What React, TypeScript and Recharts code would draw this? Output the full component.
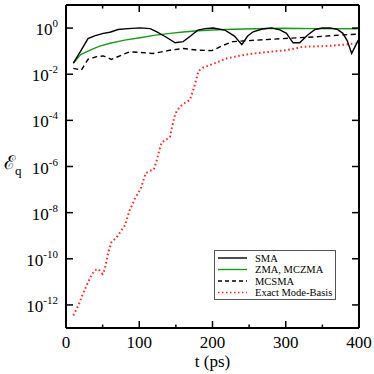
import React from "react";
import { LineChart, Line, XAxis, YAxis, Legend } from "recharts";

// time axis (ps) and error values
const smaT = [10, 20, 30, 40, 51, 60, 71, 85, 101, 115, 124, 137, 149, 160, 170, 180, 190, 201, 217, 230, 240, 248, 255.5, 268, 280.6, 292, 301, 310, 319, 330, 340, 350, 360, 370, 378, 384, 390, 399];
const smaV = [0.03, 0.1, 0.35, 0.47, 0.59, 0.66, 0.87, 0.95, 1.02, 0.95, 0.69, 0.4, 0.23, 0.26, 0.45, 0.81, 0.95, 1.0, 0.81, 0.45, 0.19, 0.45, 0.69, 0.91, 1.02, 0.83, 0.59, 0.23, 0.23, 0.5, 0.87, 1.0, 1.02, 0.89, 0.59, 0.28, 0.08, 0.3];

const zmaT = [10, 20, 33, 45, 60, 80, 101, 120, 142, 160, 180, 200, 228, 260, 296, 340, 398];
const zmaV = [0.03, 0.071, 0.11, 0.16, 0.22, 0.3, 0.38, 0.48, 0.59, 0.68, 0.76, 0.83, 0.89, 0.93, 0.98, 0.95, 0.93];

const mcsmaT = [10, 21, 30, 42, 51, 62, 78, 87, 100, 119, 142, 160, 180, 199, 215, 228, 260, 296, 342, 374, 396];
const mcsmaV = [0.018, 0.015, 0.044, 0.058, 0.062, 0.044, 0.072, 0.093, 0.089, 0.079, 0.11, 0.13, 0.11, 0.105, 0.18, 0.26, 0.3, 0.35, 0.42, 0.5, 0.54];

const exactT = [10, 16.8, 22, 28, 35, 39.6, 44, 50, 53, 57.7, 62, 69, 80.5, 87, 94, 102, 106.4, 109, 114.6, 120, 124.6, 128, 130.5, 136, 142, 145, 148.7, 151.8, 157, 162.7, 169, 174.6, 178, 181, 188, 197, 210, 220, 240, 256, 280, 301, 324, 356, 383, 395];
const exactV = [3.5e-13, 9.3e-13, 2.5e-12, 6.9e-12, 2.0e-11, 3.2e-11, 3.6e-11, 2.2e-11, 3.6e-11, 1.9e-10, 5.2e-10, 8.5e-10, 2.8e-9, 1.3e-8, 4.0e-8, 1.1e-7, 3.0e-7, 5.2e-7, 6.5e-7, 7.4e-7, 2.2e-6, 6.0e-6, 1.1e-5, 1.4e-5, 1.9e-5, 5.6e-5, 1.7e-4, 2.8e-4, 4.2e-4, 5.8e-4, 7.6e-4, 2.5e-3, 6.3e-3, 1.4e-2, 2.0e-2, 2.5e-2, 3.7e-2, 4.9e-2, 6.6e-2, 7.9e-2, 9.5e-2, 0.11, 0.155, 0.166, 0.195, 0.22];

const xTicks = [0, 50, 100, 150, 200, 250, 300, 350, 400];
const yTicks = [1, 1e-2, 1e-4, 1e-6, 1e-8, 1e-10, 1e-12];

const seriesNames = ["SMA", "ZMA, MCZMA", "MCSMA", "Exact Mode-Basis"];

const SERIF = "Liberation Serif";
const txt = { fontFamily: SERIF };
const GREEN = "#179c17";
const RED = "#ff2a2a";

const toRows = (t: number[], v: number[]) => t.map((x, i) => ({ t: x, v: v[i] }));

const smaData = toRows(smaT, smaV);
const zmaData = toRows(zmaT, zmaV);
const mcsmaData = toRows(mcsmaT, mcsmaV);
const exactData = toRows(exactT, exactV);

const legendStyles = [
  { color: "#000", dash: undefined },
  { color: GREEN, dash: undefined },
  { color: "#000", dash: "4 3" },
  { color: RED, dash: "1.5 2.5" },
];

function BottomTick({ x, y, payload }: any) {
  const major = payload.value % 100 === 0;
  return (
    <g>
      <line x1={x} y1={y} x2={x} y2={y - (major ? 7 : 3.5)} stroke="#000" strokeWidth={1.5} />
      {major && (
        <text x={x} y={y + 20} textAnchor="middle" fontSize={17} style={txt} fill="#000">
          {payload.value}
        </text>
      )}
    </g>
  );
}

function TopTick({ x, y, payload }: any) {
  const major = payload.value % 100 === 0;
  return <line x1={x} y1={y} x2={x} y2={y + (major ? 7 : 3.5)} stroke="#000" strokeWidth={1.5} />;
}

function LeftTick({ x, y, payload }: any) {
  const exp = Math.round(Math.log10(payload.value));
  return (
    <g>
      <line x1={x} y1={y} x2={x + 7} y2={y} stroke="#000" strokeWidth={1.5} />
      <text x={x - 8} y={y + 7} textAnchor="end" style={txt} fill="#000">
        <tspan fontSize={17}>10</tspan>
        <tspan fontSize={11} dy={-8}>{exp}</tspan>
      </text>
    </g>
  );
}

function RightTick({ x, y }: any) {
  return <line x1={x} y1={y} x2={x - 7} y2={y} stroke="#000" strokeWidth={1.5} />;
}

function LegendBox() {
  return (
    <svg width={122} height={50} style={{ display: "block" }}>
      <rect x={0.5} y={0.5} width={121} height={49} fill="#fff" stroke="#555" strokeWidth={1} />
      {seriesNames.map((name, i) => {
        const cy = 8 + i * 11.5;
        return (
          <g key={name}>
            <line x1={4} x2={33} y1={cy} y2={cy} stroke={legendStyles[i].color} strokeWidth={1.4} strokeDasharray={legendStyles[i].dash} />
            <text x={41} y={cy + 3.5} fontSize={10.5} style={txt} fill="#000">
              {name}
            </text>
          </g>
        );
      })}
    </svg>
  );
}

export default function App() {
  return (
    <div style={{ position: "absolute", left: 0, top: 0, background: "#fff" }}>
      <LineChart width={374} height={374} margin={{ top: 0, right: 0, bottom: 0, left: 0 }}>
        <XAxis
          xAxisId="top"
          orientation="top"
          type="number"
          dataKey="t"
          domain={[0, 400]}
          ticks={xTicks}
          height={5}
          tickSize={0}
          tickMargin={0}
          tickLine={false}
          axisLine={{ stroke: "#000", strokeWidth: 2 }}
          tick={<TopTick />}
          allowDataOverflow
        />
        <XAxis
          type="number"
          dataKey="t"
          domain={[0, 400]}
          ticks={xTicks}
          height={46}
          tickSize={0}
          tickMargin={0}
          tickLine={false}
          axisLine={{ stroke: "#000", strokeWidth: 2 }}
          tick={<BottomTick />}
          interval={0}
          allowDataOverflow
          label={({ viewBox }: any) => (
            <text x={viewBox.x + viewBox.width / 2} y={viewBox.y + 39} textAnchor="middle" fontSize={17} style={txt} fill="#000">
              t (ps)
            </text>
          )}
        />
        <YAxis
          type="number"
          scale="log"
          domain={[1e-13, 10]}
          ticks={yTicks}
          width={66}
          tickSize={0}
          tickMargin={0}
          tickLine={false}
          axisLine={{ stroke: "#000", strokeWidth: 2 }}
          tick={<LeftTick />}
          interval={0}
          allowDataOverflow
          label={({ viewBox }: any) => (
            <text x={viewBox.x + 4} y={viewBox.y + viewBox.height / 2 + 2} style={txt} fill="#000">
              <tspan fontSize={19}>ℰ</tspan>
              <tspan fontSize={13} dy={6}>q</tspan>
            </text>
          )}
        />
        <YAxis
          yAxisId="right"
          orientation="right"
          type="number"
          scale="log"
          domain={[1e-13, 10]}
          ticks={yTicks}
          width={15}
          tickSize={0}
          tickMargin={0}
          tickLine={false}
          axisLine={{ stroke: "#000", strokeWidth: 2 }}
          tick={<RightTick />}
          interval={0}
          allowDataOverflow
        />
        <Line data={exactData} dataKey="v" name={seriesNames[3]} type="linear" stroke={RED} strokeWidth={2} strokeDasharray="1.6 2.6" dot={false} isAnimationActive={false} />
        <Line data={mcsmaData} dataKey="v" name={seriesNames[2]} type="linear" stroke="#000" strokeWidth={1.4} strokeDasharray="5 3.5" dot={false} isAnimationActive={false} />
        <Line data={zmaData} dataKey="v" name={seriesNames[1]} type="linear" stroke={GREEN} strokeWidth={1.4} dot={false} isAnimationActive={false} />
        <Line data={smaData} dataKey="v" name={seriesNames[0]} type="linear" stroke="#000" strokeWidth={1.4} dot={false} isAnimationActive={false} />
        <Legend
          layout="vertical"
          align="center"
          verticalAlign="middle"
          content={() => <LegendBox />}
          wrapperStyle={{ left: 214, top: 250, width: 122, height: 50 }}
        />
      </LineChart>
    </div>
  );
}
